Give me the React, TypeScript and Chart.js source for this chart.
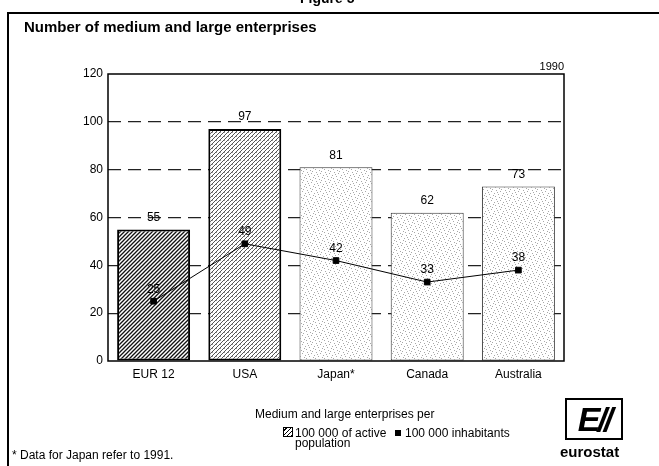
import React, { useEffect, useRef } from "react";
import { Chart, registerables } from "chart.js";

Chart.register(...registerables);

const categories = ["EUR 12", "USA", "Japan*", "Canada", "Australia"];
const perActivePopulation = [55, 97, 81, 62, 73];
const perInhabitants = [25, 49, 42, 33, 38];
const yTicks = [0, 20, 40, 60, 80, 100, 120];

const FONT = "'Liberation Sans', Arial, Helvetica, sans-serif";

function makeHatch(line: string, lw: number, dots: boolean): CanvasPattern | string {
  const c = document.createElement("canvas");
  c.width = 4;
  c.height = 4;
  const g = c.getContext("2d");
  if (!g) return "#fff";
  g.fillStyle = "#fff";
  g.fillRect(0, 0, 4, 4);
  g.strokeStyle = line;
  g.lineWidth = lw;
  g.beginPath();
  g.moveTo(-1, 5);
  g.lineTo(5, -1);
  g.moveTo(-1, 1);
  g.lineTo(1, -1);
  g.moveTo(3, 5);
  g.lineTo(5, 3);
  g.stroke();
  if (dots) {
    g.fillStyle = "#999";
    g.fillRect(0, 0, 1, 1);
  }
  const p = g.createPattern(c, "repeat");
  return p || "#fff";
}

function makeStipple(): CanvasPattern | string {
  const c = document.createElement("canvas");
  c.width = 9;
  c.height = 9;
  const g = c.getContext("2d");
  if (!g) return "#fff";
  g.fillStyle = "#fff";
  g.fillRect(0, 0, 9, 9);
  g.fillStyle = "#a8a8a8";
  const pts = [
    [1, 1], [5, 2], [7, 6], [3, 5], [0, 7], [6, 0], [2, 3], [8, 4], [4, 8],
  ];
  pts.forEach(([x, y]) => g.fillRect(x, y, 1, 1));
  const p = g.createPattern(c, "repeat");
  return p || "#fff";
}

const valueLabels = {
  id: "valueLabels",
  afterDatasetsDraw(chart: any) {
    const ctx = chart.ctx;
    ctx.save();
    ctx.font = `12px ${FONT}`;
    ctx.fillStyle = "#000";
    ctx.textAlign = "center";
    ctx.textBaseline = "middle";
    chart.data.datasets.forEach((ds: any, i: number) => {
      const meta = chart.getDatasetMeta(i);
      meta.data.forEach((el: any, j: number) => {
        ctx.fillText(String(ds.data[j]), el.x, el.y - 12);
      });
    });
    ctx.restore();
  },
};

const frame = {
  id: "frame",
  afterDraw(chart: any) {
    const { left, right, top, bottom } = chart.chartArea;
    const ctx = chart.ctx;
    ctx.save();
    ctx.strokeStyle = "#000";
    ctx.lineWidth = 1.5;
    ctx.strokeRect(left, top, right - left, bottom - top);
    ctx.font = `11px ${FONT}`;
    ctx.fillStyle = "#000";
    ctx.textAlign = "right";
    ctx.textBaseline = "bottom";
    ctx.fillText("1990", right, top - 2);
    ctx.restore();
  },
};

export default function App() {
  const ref = useRef<HTMLCanvasElement | null>(null);

  useEffect(() => {
    if (!ref.current) return;
    const hatchDark = makeHatch("#111", 1.3, false);
    const hatchMid = makeHatch("#555", 1, true);
    const stipple = makeStipple();
    const chart = new Chart(ref.current, {
      type: "bar",
      data: {
        labels: categories,
        datasets: [
          {
            type: "line",
            label: "100 000 inhabitants",
            data: perInhabitants,
            borderColor: "#000",
            backgroundColor: "#000",
            borderWidth: 1,
            pointStyle: "rect",
            pointRadius: 4,
            pointBackgroundColor: "#000",
            pointBorderColor: "#000",
            order: 0,
          } as any,
          {
            type: "bar",
            label: "100 000 of active population",
            data: perActivePopulation,
            backgroundColor: [hatchDark, hatchMid, stipple, stipple, stipple] as any,
            borderColor: ["#000", "#000", "#333", "#333", "#333"],
            borderWidth: [2, 2, 1, 1, 1] as any,
            borderSkipped: false,
            barPercentage: 1,
            categoryPercentage: 0.8,
            order: 1,
          } as any,
        ],
      },
      options: {
        responsive: false,
        maintainAspectRatio: false,
        animation: false,
        devicePixelRatio: 1,
        layout: { padding: { left: 0, right: 95, top: 74, bottom: 75 } },
        plugins: {
          legend: { display: false },
          tooltip: { enabled: false },
          title: { display: false },
        },
        scales: {
          x: {
            grid: { display: false, drawTicks: false },
            border: { display: false },
            ticks: { color: "#000", font: { family: FONT, size: 12 }, padding: 6 },
            afterFit: (s: any) => {
              s.height = 30;
            },
          },
          y: {
            min: 0,
            max: 120,
            afterBuildTicks: (s: any) => {
              s.ticks = yTicks.map((v) => ({ value: v }));
            },
            grid: {
              drawTicks: false,
              color: (c: any) =>
                c.tick && (c.tick.value === 0 || c.tick.value === 120) ? "rgba(0,0,0,0)" : "#222",
              lineWidth: 1.2,
            },
            border: { display: false, dash: [13, 7] },
            ticks: { color: "#000", font: { family: FONT, size: 12 }, padding: 5 },
            afterFit: (s: any) => {
              s.width = 108;
            },
          },
        },
      },
      plugins: [valueLabels, frame],
    });
    return () => chart.destroy();
  }, []);

  const txt: React.CSSProperties = { position: "absolute", fontFamily: FONT, fontSize: 12, color: "#000", whiteSpace: "nowrap", lineHeight: "14px" };

  return (
    <div style={{ position: "absolute", left: 0, top: 0, width: 659, height: 466, overflow: "hidden", background: "#fff" }}>
      <canvas ref={ref} width={659} height={466} style={{ position: "absolute", left: 0, top: 0, width: 659, height: 466 }} />
      <div style={{ position: "absolute", left: 7, top: 12, width: 2, height: 454, background: "#000" }} />
      <div style={{ position: "absolute", left: 7, top: 12, width: 652, height: 2, background: "#000" }} />
      <div style={{ ...txt, left: 300, top: -9, fontWeight: "bold", fontSize: 14 }}>Figure 5</div>
      <div style={{ ...txt, left: 24, top: 18, fontWeight: "bold", fontSize: 15, lineHeight: "18px" }}>
        Number of medium and large enterprises
      </div>
      <div style={{ ...txt, left: 255, top: 407 }}>Medium and large enterprises per</div>
      <div
        style={{
          position: "absolute",
          left: 283,
          top: 427,
          width: 8,
          height: 8,
          border: "1px solid #000",
          background: "repeating-linear-gradient(-45deg, #000 0 1px, #fff 1px 3px)",
        }}
      />
      <div style={{ ...txt, left: 295, top: 426 }}>100 000 of active</div>
      <div style={{ position: "absolute", left: 395, top: 430, width: 6, height: 6, background: "#000" }} />
      <div style={{ ...txt, left: 405, top: 426 }}>100 000 inhabitants</div>
      <div style={{ ...txt, left: 295, top: 436 }}>population</div>
      <div style={{ ...txt, left: 12, top: 448 }}>* Data for Japan refer to 1991.</div>
      <div
        style={{
          position: "absolute",
          left: 565,
          top: 398,
          width: 54,
          height: 38,
          border: "2px solid #000",
          fontFamily: FONT,
          fontWeight: "bold",
          fontStyle: "italic",
          fontSize: 34,
          lineHeight: "38px",
          textAlign: "center",
          letterSpacing: -3,
          overflow: "hidden",
        }}
      >
        E//
      </div>
      <div style={{ ...txt, left: 560, top: 444, fontWeight: "bold", fontSize: 15, lineHeight: "16px" }}>eurostat</div>
    </div>
  );
}
